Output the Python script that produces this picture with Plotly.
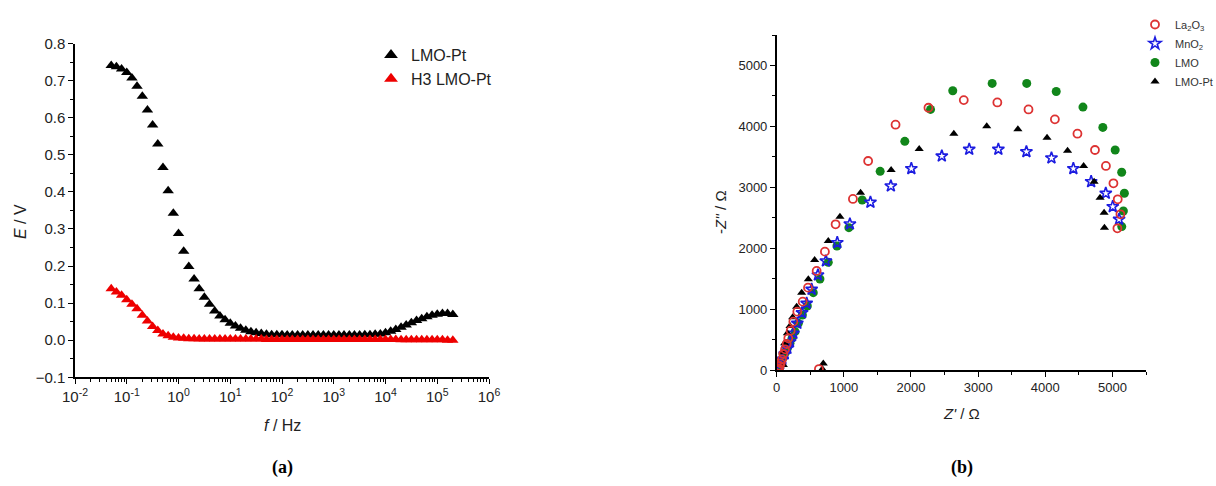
import plotly.graph_objects as go

# ---------------- Panel (a) data ----------------
freq_hz = [0.0501, 0.0631, 0.0794,
           0.1, 0.126, 0.158, 0.2, 0.251, 0.316, 0.398, 0.501, 0.631, 0.794,
           1, 1.26, 1.58, 2.0, 2.51, 3.16, 3.98, 5.01, 6.31, 7.94,
           10, 12.6, 15.8, 20.0, 25.1, 31.6, 39.8, 50.1, 63.1, 79.4,
           100, 126, 158, 200, 251, 316, 398, 501, 631, 794,
           1000, 1260, 1580, 2000, 2510, 3160, 3980, 5010, 6310, 7940,
           10000, 12600, 15800, 20000, 25100, 31600, 39800, 50100, 63100, 79400,
           100000, 126000, 158000, 200000]

e_lmo_pt = [0.741, 0.737, 0.731,
            0.722, 0.707, 0.685, 0.658, 0.621, 0.580, 0.529, 0.466, 0.403, 0.342,
            0.288, 0.240, 0.199, 0.165, 0.139, 0.116, 0.097, 0.079, 0.065, 0.055,
            0.046, 0.038, 0.032, 0.027, 0.023, 0.020, 0.018, 0.016, 0.015, 0.015,
            0.015, 0.014, 0.014, 0.014, 0.014, 0.014, 0.014, 0.014, 0.014, 0.014,
            0.014, 0.014, 0.014, 0.014, 0.014, 0.014, 0.015, 0.015, 0.016, 0.017,
            0.020, 0.024, 0.029, 0.035, 0.041, 0.047, 0.053, 0.058, 0.063, 0.067,
            0.070, 0.072, 0.072, 0.069]

e_h3_lmo_pt = [0.139, 0.130, 0.121,
               0.109, 0.097, 0.085, 0.067, 0.052, 0.037, 0.026, 0.017, 0.012, 0.008,
               0.006, 0.005, 0.004, 0.004, 0.003, 0.003, 0.003, 0.003, 0.003, 0.003,
               0.003, 0.003, 0.003, 0.003, 0.003, 0.003, 0.003, 0.002, 0.002, 0.002,
               0.002, 0.002, 0.002, 0.002, 0.002, 0.002, 0.002, 0.002, 0.002, 0.002,
               0.002, 0.002, 0.002, 0.002, 0.002, 0.002, 0.002, 0.002, 0.002, 0.002,
               0.002, 0.002, 0.002, 0.001, 0.001, 0.001, 0.001, 0.001, 0.001, 0.001,
               0.001, 0.001, 0.000, 0.000]

x_tick_exponents = [-2, -1, 0, 1, 2, 3, 4, 5, 6]

# ---------------- Panel (b) data ----------------
la_zre = [15, 25, 35, 45, 59, 79, 99, 124, 149, 173, 208, 248, 307, 387, 466, 595, 718, 877,
          1135, 1362, 1770, 2260, 2786, 3286, 3750, 4143, 4479, 4740, 4903, 5015, 5079, 5119,
          5074, 629]
la_zim = [5, 14, 27, 66, 109, 175, 263, 339, 427, 520, 646, 794, 958, 1122, 1352, 1626, 1943,
          2392, 2808, 3431, 4027, 4306, 4431, 4393, 4278, 4115, 3880, 3612, 3350, 3065, 2802,
          2556, 2326, 16]

mn_zre = [25, 50, 84, 119, 159, 198, 248, 307, 377, 446, 520, 614, 733, 902, 1090, 1396, 1700,
          2005, 2459, 2867, 3301, 3719, 4092, 4418, 4683, 4901, 5005, 5099]
mn_zim = [38, 99, 175, 263, 356, 465, 602, 766, 941, 1095, 1325, 1560, 1790, 2091, 2397, 2753,
          3021, 3306, 3513, 3623, 3623, 3584, 3481, 3306, 3092, 2901, 2682, 2474]

lmo_zre = [45, 69, 99, 129, 159, 198, 228, 273, 322, 382, 456, 545, 644, 768, 897, 1075, 1273,
           1541, 1908, 2291, 2622, 3209, 3724, 4163, 4561, 4857, 5041, 5138, 5178, 5163, 5139]
lmo_zim = [55, 120, 208, 285, 356, 438, 520, 629, 766, 903, 1051, 1270, 1494, 1768, 2036, 2337,
           2791, 3262, 3754, 4278, 4584, 4705, 4705, 4573, 4317, 3983, 3612, 3246, 2901, 2611,
           2354]

pt_zre = [99, 89, 119, 159, 198, 238, 297, 372, 471, 565, 768, 942, 1249, 1704, 2122, 2638, 3128,
          3592, 4026, 4332, 4571, 4727, 4816, 4876, 4881, 694, 680]
pt_zim = [82, 290, 440, 602, 722, 865, 1040, 1270, 1489, 1806, 2118, 2518, 2911, 3284, 3628,
          3880, 4000, 3951, 3814, 3601, 3350, 3092, 2830, 2583, 2337, 105, 15]

W, H = 1216, 486
FONT = "Liberation Sans, Arial, sans-serif"

fig = go.Figure()

# Panel (a)
fig.add_trace(go.Scatter(x=freq_hz, y=e_lmo_pt, mode="markers", name="LMO-Pt",
                         marker=dict(symbol="triangle-up", size=10, color="black"),
                         xaxis="x", yaxis="y", legend="legend"))
fig.add_trace(go.Scatter(x=freq_hz, y=e_h3_lmo_pt, mode="markers", name="H3 LMO-Pt",
                         marker=dict(symbol="triangle-up", size=10, color="#ee0000"),
                         xaxis="x", yaxis="y", legend="legend"))

# Panel (b)
fig.add_trace(go.Scatter(x=lmo_zre, y=lmo_zim, mode="markers", name="LMO", legendrank=3,
                         marker=dict(symbol="circle", size=9, color="#11861a"),
                         xaxis="x2", yaxis="y2", legend="legend2"))
fig.add_trace(go.Scatter(x=mn_zre, y=mn_zim, mode="markers", name="MnO<sub>2</sub>", legendrank=2,
                         marker=dict(symbol="star-open", size=9, color="#1c1ce0",
                                     line=dict(width=1.6, color="#1c1ce0")),
                         xaxis="x2", yaxis="y2", legend="legend2"))
fig.add_trace(go.Scatter(x=pt_zre, y=pt_zim, mode="markers", name="LMO-Pt", legendrank=4,
                         marker=dict(symbol="triangle-up", size=8, color="black"),
                         xaxis="x2", yaxis="y2", legend="legend2"))
fig.add_trace(go.Scatter(x=la_zre, y=la_zim, mode="markers", name="La<sub>2</sub>O<sub>3</sub>", legendrank=1,
                         marker=dict(symbol="circle-open", size=8, color="#dd3333",
                                     line=dict(width=1.8, color="#dd3333")),
                         xaxis="x2", yaxis="y2", legend="legend2"))

axis_common = dict(showline=True, linecolor="black", linewidth=1.5, ticks="outside",
                   tickcolor="black", tickwidth=1.2, showgrid=False, zeroline=False,
                   mirror=False)

fig.update_layout(
    width=W, height=H,
    margin=dict(l=0, r=0, t=0, b=0, pad=0, autoexpand=False),
    paper_bgcolor="white", plot_bgcolor="white",
    font=dict(family=FONT, color="#222222"),
    xaxis=dict(axis_common, type="log", domain=[75 / W, 489 / W], anchor="y",
               range=[-2, 6],
               tickmode="array",
               tickvals=[10.0 ** e for e in x_tick_exponents],
               ticktext=["10<sup>%d</sup>" % e for e in x_tick_exponents],
               ticklen=5, tickfont=dict(size=15),
               minor=dict(tickmode="linear", dtick="D1", ticks="outside",
                          ticklen=3, tickcolor="black", tickwidth=1, showgrid=False)),
    yaxis=dict(axis_common, domain=[1 - 377.3 / H, 1 - 43.5 / H], anchor="x",
               range=[-0.1, 0.8], dtick=0.1, tick0=0, tickformat=".1f",
               ticklen=5, tickfont=dict(size=15),
               minor=dict(dtick=0.05, ticks="outside", ticklen=3, tickcolor="black",
                          showgrid=False)),
    xaxis2=dict(axis_common, domain=[776.7 / W, 1146 / W], anchor="y2",
                range=[0, 5500], dtick=1000, tick0=0, ticklen=5,
                tickfont=dict(size=13),
                minor=dict(dtick=500, ticks="outside", ticklen=3, tickcolor="black",
                           showgrid=False)),
    yaxis2=dict(axis_common, domain=[1 - 370 / H, 1 - 35 / H], anchor="x2",
                range=[0, 5500], dtick=1000, tick0=0, ticklen=5,
                tickfont=dict(size=13),
                minor=dict(dtick=500, ticks="outside", ticklen=3, tickcolor="black",
                           showgrid=False)),
    legend=dict(x=371 / W, y=1 - 38 / H, xanchor="left", yanchor="top",
                bgcolor="rgba(0,0,0,0)", font=dict(size=16, color="#222222"),
                itemsizing="constant", tracegroupgap=0),
    legend2=dict(x=1135 / W, y=1 - 10 / H, xanchor="left", yanchor="top",
                 bgcolor="rgba(0,0,0,0)", font=dict(size=11, color="#333333"),
                 itemsizing="trace", tracegroupgap=0),
    showlegend=True,
)

annotations = [
    dict(text="<i>f</i> / Hz", x=282 / W, y=1 - 425 / H, font=dict(size=16)),
    dict(text="<i>E</i> / V", x=20 / W, y=1 - 222 / H, textangle=-90, font=dict(size=16)),
    dict(text="<i>Z'</i> / Ω", x=962 / W, y=1 - 413 / H, font=dict(size=15)),
    dict(text="-<i>Z''</i> / Ω", x=720 / W, y=1 - 212 / H, textangle=-90, font=dict(size=15)),
    dict(text="<b>(a)</b>", x=282 / W, y=1 - 467 / H,
         font=dict(size=18, family="Liberation Serif, DejaVu Serif, serif", color="black")),
    dict(text="<b>(b)</b>", x=962 / W, y=1 - 467 / H,
         font=dict(size=18, family="Liberation Serif, DejaVu Serif, serif", color="black")),
]
for a in annotations:
    a.update(xref="paper", yref="paper", showarrow=False, xanchor="center", yanchor="middle")
fig.update_layout(annotations=annotations)

fig.write_html("out.html")
